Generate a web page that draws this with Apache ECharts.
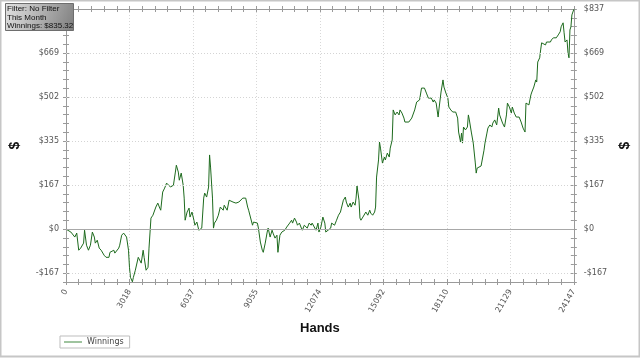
<!DOCTYPE html>
<html><head><meta charset="utf-8">
<script src="https://cdn.jsdelivr.net/npm/echarts@6/dist/echarts.min.js"></script>
<style>html,body{margin:0;padding:0;background:#fff}#c{width:640px;height:358px}</style>
</head><body><div id="c"></div>
<script>
const hands = [0,93,232,418,511,604,697,836,882,975,1068,1161,1254,1347,1393,1486,1579,1672,1811,1904,2043,2090,2182,2275,2322,2415,2508,2554,2647,2740,2833,2879,2972,3018,3065,3158,3204,3297,3436,3529,3576,3668,3715,3808,3901,3947,3994,4040,4133,4272,4365,4458,4504,4597,4690,4783,4876,4969,5108,5201,5247,5340,5387,5479,5572,5619,5665,5758,5851,5897,5990,6083,6129,6222,6315,6362,6455,6547,6594,6687,6780,6826,6873,6965,7012,7058,7151,7244,7337,7476,7523,7662,7755,7941,8080,8219,8405,8451,8544,8637,8684,8776,8869,8916,9009,9101,9148,9241,9334,9380,9473,9566,9612,9705,9798,9844,9937,10030,10077,10170,10262,10309,10402,10495,10541,10634,10727,10773,10866,10959,11005,11098,11191,11237,11330,11423,11470,11563,11656,11702,11795,11888,11980,12027,12120,12213,12306,12352,12445,12584,12631,12770,12863,12956,13049,13095,13188,13281,13327,13420,13513,13559,13652,13745,13791,13838,13931,13977,14024,14117,14209,14256,14349,14442,14488,14581,14674,14720,14767,14860,14906,14953,15045,15138,15185,15278,15371,15417,15510,15557,15603,15650,15743,15836,15882,15975,16068,16114,16207,16300,16346,16439,16532,16579,16672,16765,16811,16904,16997,17043,17136,17229,17275,17368,17461,17507,17600,17693,17739,17832,17925,17971,18064,18157,18203,18296,18389,18435,18528,18621,18667,18760,18807,18853,18900,18993,19086,19132,19178,19271,19364,19411,19457,19504,19550,19643,19736,19875,19921,20014,20060,20153,20246,20293,20385,20478,20525,20571,20618,20711,20757,20850,20943,20989,21082,21175,21221,21314,21407,21453,21546,21639,21686,21732,21825,21871,21918,22011,22104,22150,22243,22336,22382,22429,22522,22568,22615,22707,22800,22847,22940,23032,23079,23172,23264,23311,23404,23497,23543,23636,23683,23729,23822,23868,23915,23961,24008,24054,24147];
const winnings = [0,-4,-11,-30,-15,-80,-72,-53,-4,-61,-80,-61,-11,-30,-53,-42,-72,-80,-99,-107,-107,-88,-91,-80,-91,-88,-72,-61,-23,-15,-15,-30,-80,-145,-183,-200,-183,-156,-107,-110,-129,-80,-107,-156,-145,-72,-68,42,53,84,99,80,72,141,156,175,179,160,167,217,243,217,186,213,167,118,34,65,80,46,65,34,15,27,-4,-11,4,118,137,122,160,282,236,118,4,23,34,53,84,72,91,72,110,103,99,103,118,122,118,84,72,65,15,27,34,23,4,-49,-80,-88,-53,-11,4,-30,-4,-15,-34,-23,-88,-23,-11,-15,-4,8,8,23,34,23,42,27,15,23,4,-4,15,8,4,23,15,23,27,-4,23,-11,8,46,23,-11,-15,4,23,15,34,53,65,80,110,122,103,84,99,84,103,91,118,164,110,42,34,46,42,65,53,72,61,53,65,84,198,263,331,308,251,274,263,289,274,308,339,453,460,434,445,434,453,441,422,407,403,407,403,422,415,453,483,479,491,536,529,536,517,498,491,498,483,491,479,426,460,521,567,540,517,498,464,453,445,441,445,422,369,331,365,327,388,377,388,434,415,369,327,331,255,213,232,236,240,300,327,365,384,396,388,403,415,396,426,460,434,441,403,388,434,479,464,441,464,441,426,422,426,407,403,384,369,479,483,472,510,521,540,567,559,635,651,681,708,708,700,711,708,711,719,727,730,727,738,750,769,784,746,711,719,670,651,757,769,814,835.32];
const xMax = 24147;
const xStep = 3018.375;
const yStep = 167.3;
const yMinorStep = 33.46;
const yMin = -200.76;
const yMax = 836.5;
const yGridValues = [-167.3, 167.3, 334.6, 501.9, 669.2];
const infoLines = ['Filter: No Filter', 'This Month', 'Winnings: $835.32'];
const seriesName = 'Winnings';

const FONT = 'DejaVu Sans';
const chart = echarts.init(document.getElementById('c'), null, {renderer: 'canvas'});
const axisGrey = '#9a9a9a';

function xAx(pos, inside, main) {
  return {
    type: 'value', position: pos, min: 0, max: xMax, interval: xStep,
    axisLine: {show: main, onZero: false, lineStyle: {color: axisGrey, width: 1}},
    axisTick: {show: true, inside: inside, length: 3, lineStyle: {color: axisGrey}},
    minorTick: {show: true, splitNumber: 5, length: 3, lineStyle: {color: axisGrey}},
    axisLabel: (pos === 'bottom' && main) ? {
      show: true, rotate: 60, margin: 8, fontSize: 8, color: '#555', fontFamily: FONT,
      formatter: v => String(Math.round(v))
    } : {show: false},
    splitLine: (pos === 'bottom' && main) ? {show: true, lineStyle: {color: '#d8d8d8', type: [1, 2]}} : {show: false},
    name: (pos === 'bottom' && main) ? 'Hands' : '',
    nameLocation: 'middle', nameGap: 40,
    nameTextStyle: {fontSize: 13, fontWeight: 'bold', color: '#111', fontFamily: 'Liberation Sans'}
  };
}
function yFmt(v) {
  const k = v / yStep;
  if (Math.abs(k - Math.round(k)) > 0.01) return '';
  const r = Math.round(v);
  return (r < 0 ? '-$' : '$') + Math.abs(r);
}
function yAx(pos, inside, main) {
  return {
    type: 'value', position: pos, min: yMin, max: yMax, interval: yMinorStep,
    axisLine: {show: main, onZero: false, lineStyle: {color: axisGrey, width: 1}},
    axisTick: {show: true, inside: inside, length: 3, lineStyle: {color: axisGrey}},
    axisLabel: main ? {show: true, margin: pos === 'left' ? 7 : 10, fontSize: 8, color: '#555', fontFamily: FONT, formatter: yFmt} : {show: false},
    splitLine: {show: false},
    name: main ? '$' : '',
    nameLocation: 'middle', nameGap: pos === 'left' ? 44 : 42, nameRotate: 90,
    nameTextStyle: {fontSize: 14, fontWeight: 'bold', color: '#111', fontFamily: 'Liberation Sans'}
  };
}

const data = hands.map((h, i) => [h, winnings[i]]);

chart.setOption({
  animation: false,
  backgroundColor: '#fff',
  grid: {left: 61, right: 59, top: 9, bottom: 76},
  xAxis: [xAx('bottom', false, true), xAx('bottom', true, false), xAx('top', false, true), xAx('top', true, false)],
  yAxis: [yAx('left', false, true), yAx('left', true, false), yAx('right', false, true), yAx('right', true, false)],
  legend: {
    left: 60, top: 336, orient: 'horizontal',
    borderColor: '#bdbdbd', borderWidth: 1, padding: [2, 6, 2, 4],
    icon: 'rect', itemWidth: 18, itemHeight: 2, itemGap: 4,
    itemStyle: {color: '#9fc49f'},
    textStyle: {fontSize: 8, color: '#444', fontFamily: FONT},
    data: [seriesName]
  },
  series: [{
    name: seriesName, type: 'line', xAxisIndex: 0, yAxisIndex: 0,
    data: data, symbol: 'none', showSymbol: false,
    lineStyle: {color: '#1d6a1d', width: 1},
    itemStyle: {color: '#1d6a1d'},
    markLine: {
      silent: true, symbol: 'none', label: {show: false}, animation: false,
      data: yGridValues.map(v => ({yAxis: v, lineStyle: {color: '#d4d4d4', type: [1, 2], width: 1}}))
        .concat([{yAxis: 0, lineStyle: {color: '#a8a8a8', type: 'solid', width: 1}}])
    }
  }],
  graphic: [
    {type: 'rect', zlevel: 5, z: 100, shape: {x: 0.5, y: 0.5, width: 639, height: 356}, style: {fill: 'none', stroke: '#c6c6c6', lineWidth: 2}, silent: true},
    {type: 'rect', zlevel: 5, z: 101, shape: {x: 5.5, y: 3.5, width: 68, height: 27},
      style: {stroke: '#6e6e6e', lineWidth: 1,
        fill: new echarts.graphic.LinearGradient(0, 0, 1, 1, [{offset: 0, color: '#e4e4e4'}, {offset: 1, color: '#7d7d7d'}])}},
    {type: 'text', zlevel: 5, z: 102, style: {x: 7, y: 4.5, text: infoLines.join('\n'), fill: '#111', font: '8px "Liberation Sans"', lineHeight: 8.6}}
  ]
});
</script>
</body></html>
